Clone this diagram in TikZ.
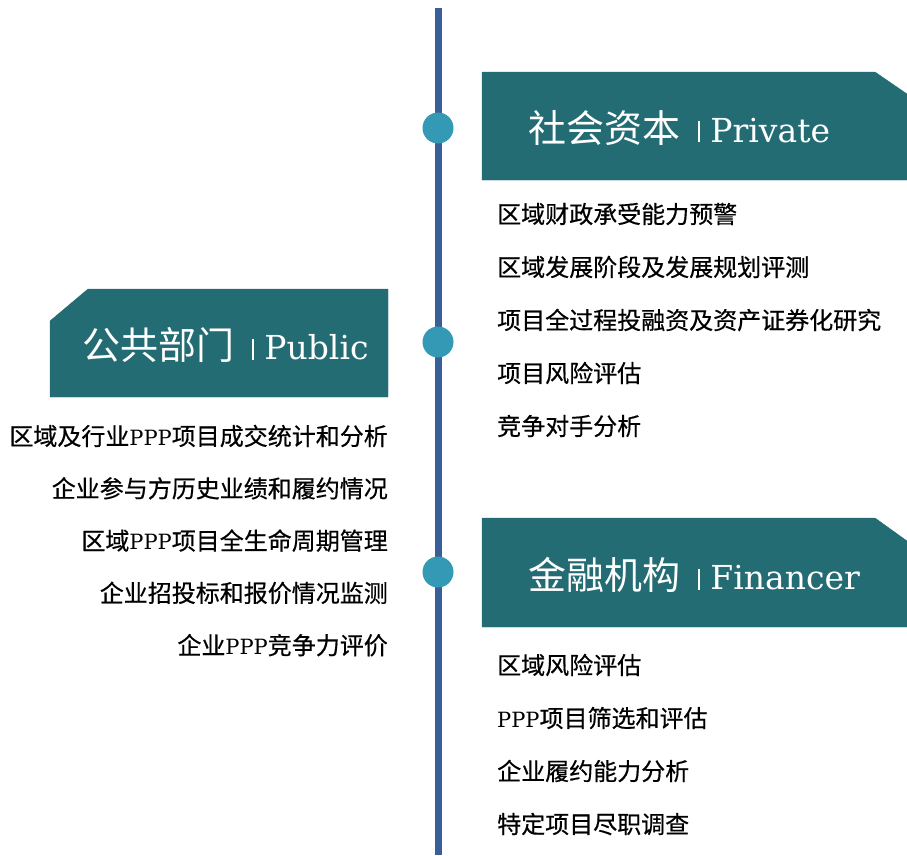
\documentclass[tikz,border=0pt]{standalone}
\usepackage{fontspec}
\newfontfamily\cjk{Noto Sans CJK SC}
\newfontfamily\cjkbold[FakeBold=0.5]{Noto Sans CJK SC}
\newfontfamily\latin{DejaVu Serif}
\definecolor{boxteal}{HTML}{246C73}
\definecolor{lineblue}{HTML}{3A5F98}
\definecolor{dotblue}{HTML}{3399B4}
\newcommand{\barsep}{\hspace{18pt}\rule[0pt]{2.2pt}{21pt}\hspace{10pt}}
\newcommand{\ppp}{{\latin\fontsize{21}{21}\selectfont PPP}}
\tikzset{
	item/.style={font=\cjkbold\fontsize{24}{24}\selectfont, inner sep=0pt},
	dot/.style={circle, fill=dotblue, minimum size=31pt, inner sep=0pt},
	title/.style={text=white, font=\fontsize{38}{38}\selectfont, inner sep=0pt}
}
\begin{document}
\begin{tikzpicture}[x=1pt,y=-1pt]
	\useasboundingbox (0,0) rectangle (907,855);
	% timeline
	\coordinate (top) at (438,8);
	\coordinate (bottom) at (438,855);
	\draw[lineblue,line width=7pt] (top) -- (bottom);
	\foreach \n/\y in {private/128,public/342,financer/572}
	{
		\node[dot] (dot-\n) at (438,\y) {};
	}
	% title boxes
	\filldraw[boxteal] (482,72) -- (875,72) -- (907,94) -- (907,180) -- (482,180) -- cycle;
	\filldraw[boxteal] (50,321) -- (88,289) -- (388,289) -- (388,397) -- (50,397) -- cycle;
	\filldraw[boxteal] (482,518) -- (875,518) -- (907,541) -- (907,627) -- (482,627) -- cycle;
	\node[title,anchor=west] (private) at (528,128) {{\cjk 社会资本}\barsep{\latin\fontsize{33}{33}\selectfont Private}};
	\node[title,anchor=west] (public) at (82,345) {{\cjk 公共部门}\barsep{\latin\fontsize{33}{33}\selectfont Public}};
	\node[title,anchor=west] (financer) at (528,575) {{\cjk 金融机构}\barsep{\latin\fontsize{33}{33}\selectfont Financer}};
	% lists
	\foreach \t [count=\i] in {区域财政承受能力预警,区域发展阶段及发展规划评测,项目全过程投融资及资产证券化研究,项目风险评估,竞争对手分析}
	{
		\node[item,anchor=west] (private-\i) at (497,{214+53*(\i-1)}) {\t};
	}
	\foreach \t [count=\i] in {区域及行业\ppp 项目成交统计和分析,企业参与方历史业绩和履约情况,区域\ppp 项目全生命周期管理,企业招投标和报价情况监测,企业\ppp 竞争力评价}
	{
		\node[item,anchor=east] (public-\i) at (388,{436+52.3*(\i-1)}) {\t};
	}
	\foreach \t [count=\i] in {区域风险评估,\ppp 项目筛选和评估,企业履约能力分析,特定项目尽职调查}
	{
		\node[item,anchor=west] (financer-\i) at (497,{665+53*(\i-1)}) {\t};
	}
\end{tikzpicture}
\end{document}
